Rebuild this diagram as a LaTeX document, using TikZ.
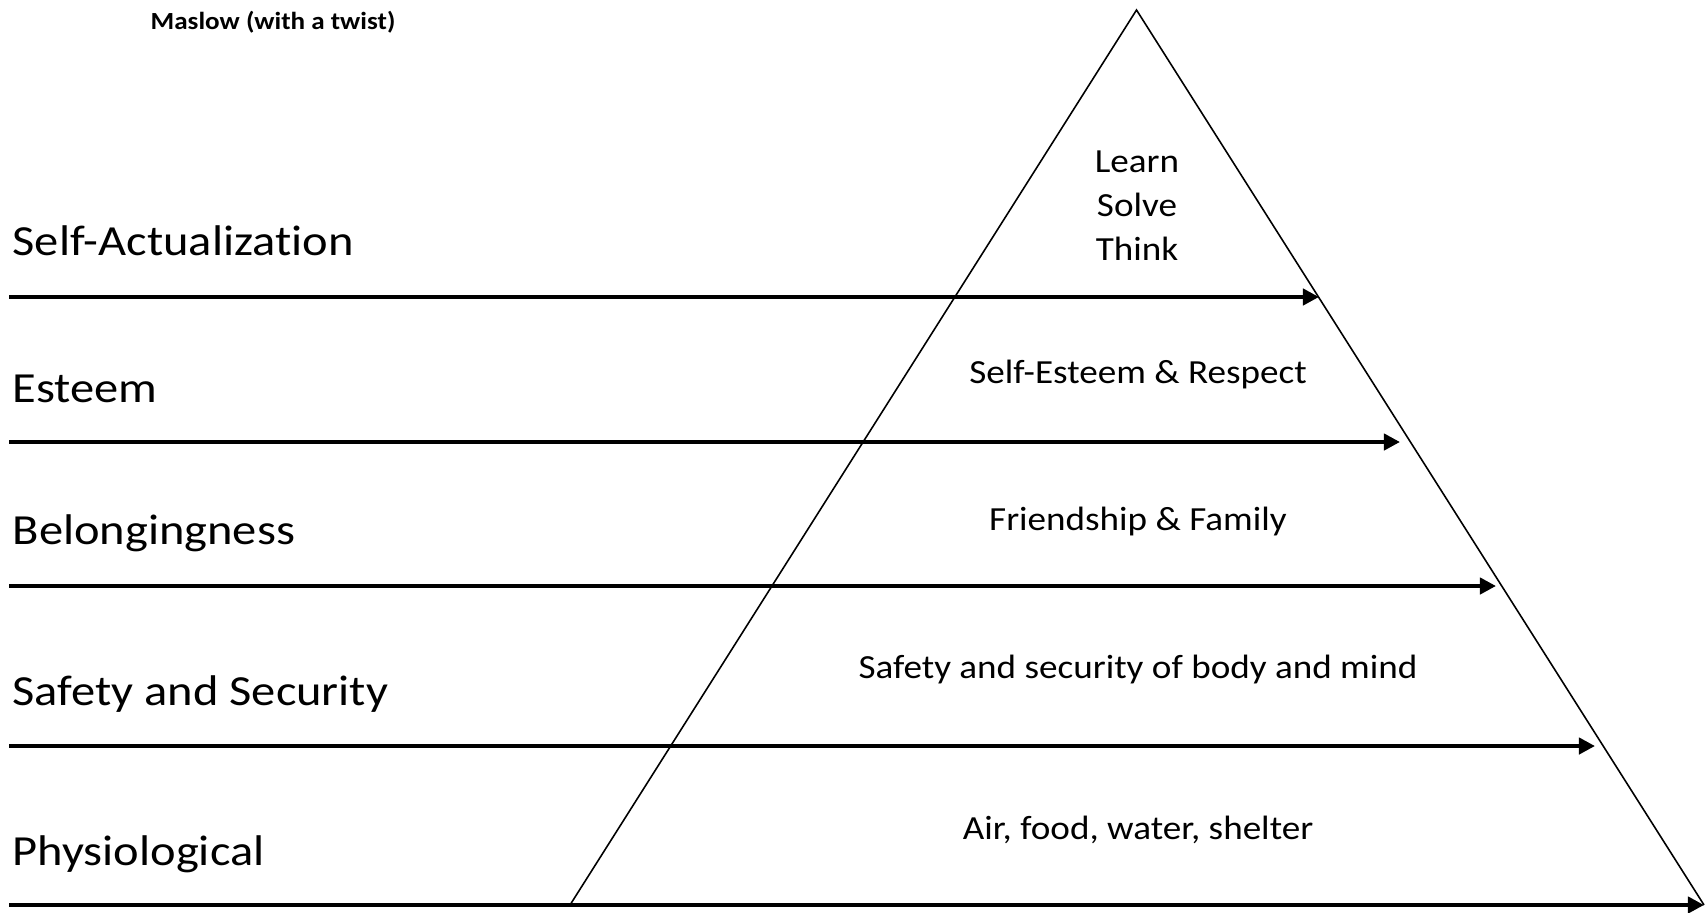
\documentclass[tikz,border=0pt]{standalone}
\usepackage{fontspec}
\setmainfont[Ligatures=NoCommon]{Carlito}
\newfontfamily\lvlfont[Ligatures=NoCommon, FakeStretch=1.13]{Carlito}
\newfontfamily\needfont[Ligatures=NoCommon, FakeStretch=1.1]{Carlito}
\usetikzlibrary{arrows.meta}

\begin{document}
\begin{tikzpicture}[x=0.01cm, y=-0.01cm,
	level/.style={line width=1.15pt, -{Triangle[length=4.6pt,width=4.6pt]}},
	lvl/.style={anchor=base west, inner sep=0pt, font=\lvlfont\fontsize{12.2}{14}\selectfont},
	need/.style={anchor=base, inner sep=0pt, font=\needfont\fontsize{9.6}{12}\selectfont}]
	\useasboundingbox (0,0) rectangle (1707,912);
	\node[anchor=base, inner sep=0pt, font=\needfont\bfseries\fontsize{7}{8}\selectfont] (title) at (273,29) {Maslow (with a twist)};
	% pyramid
	\coordinate (apex) at (1136.5,10);
	\coordinate (bl) at (570,905);
	\coordinate (br) at (1704,905);
	\draw[line width=0.45pt] (bl) -- (apex) -- (br);
	% level lines
	\coordinate (sa-l) at (9,297);
	\coordinate (sa-r) at (1319,297);
	\coordinate (es-l) at (9,442);
	\coordinate (es-r) at (1400,442);
	\coordinate (be-l) at (9,586);
	\coordinate (be-r) at (1496,586);
	\coordinate (sf-l) at (9,746);
	\coordinate (sf-r) at (1595,746);
	\coordinate (ph-l) at (9,905);
	\draw[level] (sa-l) -- (sa-r);
	\draw[level] (es-l) -- (es-r);
	\draw[level] (be-l) -- (be-r);
	\draw[level] (sf-l) -- (sf-r);
	\draw[level] (ph-l) -- (br);
	% level names
	\node[lvl] (selfact) at (12,255) {Self-Actualization};
	\node[lvl] (esteem) at (12,402) {Esteem};
	\node[lvl] (belong) at (12,544) {Belongingness};
	\node[lvl] (safety) at (12,705) {Safety and Security};
	\node[lvl] (physio) at (12,865) {Physiological};
	% needs
	\node[need] (learn) at (1137,172) {Learn};
	\node[need] (solve) at (1137,216) {Solve};
	\node[need] (think) at (1137,260) {Think};
	\node[need] (respect) at (1138,383) {Self-Esteem \& Respect};
	\node[need] (family) at (1138,530) {Friendship \& Family};
	\node[need] (body) at (1138,678) {Safety and security of body and mind};
	\node[need] (shelter) at (1138,839) {Air, food, water, shelter};
\end{tikzpicture}
\end{document}
